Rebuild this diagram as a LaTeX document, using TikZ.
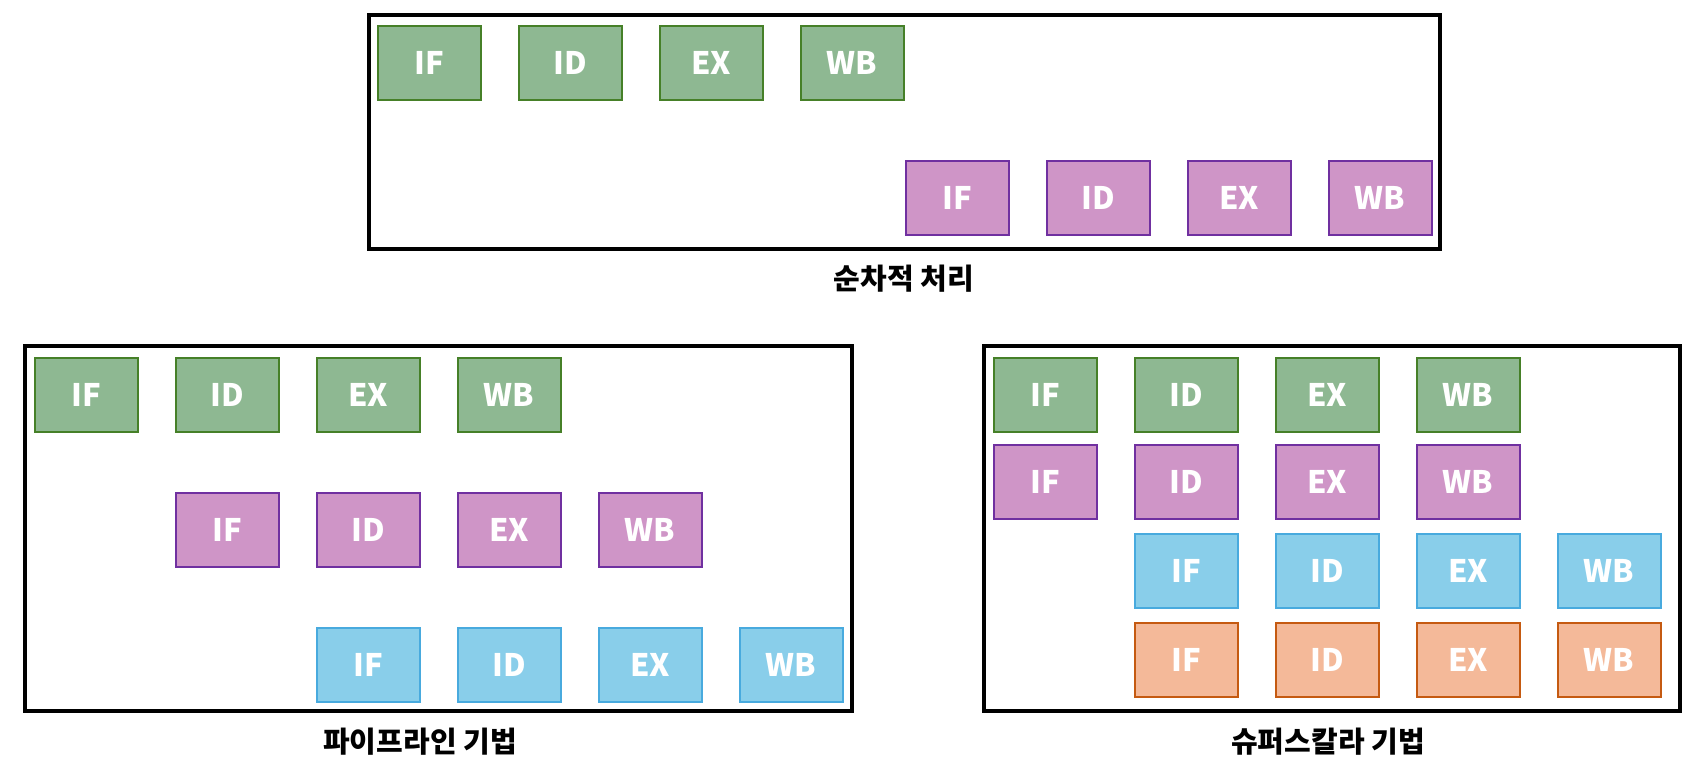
\documentclass[tikz,border=0pt]{standalone}
\usepackage{fontspec}
\setmainfont{Noto Sans CJK KR}
\definecolor{stgreen}{RGB}{142,184,146}
\definecolor{stgreenline}{RGB}{70,128,40}
\definecolor{stpurple}{RGB}{207,149,199}
\definecolor{stpurpleline}{RGB}{112,48,160}
\definecolor{stblue}{RGB}{137,206,234}
\definecolor{stblueline}{RGB}{72,170,222}
\definecolor{storange}{RGB}{244,185,153}
\definecolor{storangeline}{RGB}{197,90,17}
\usetikzlibrary{positioning}

\begin{document}
\begin{tikzpicture}[x=1pt,y=-1pt,
  stage/.style={draw,line width=2pt,minimum width=103pt,minimum height=74pt,inner sep=0pt,text=white,font=\fontsize{31}{36}\selectfont\bfseries},
  instA/.style={stage,fill=stgreen,draw=stgreenline},
  instB/.style={stage,fill=stpurple,draw=stpurpleline},
  instC/.style={stage,fill=stblue,draw=stblueline},
  instD/.style={stage,fill=storange,draw=storangeline},
  frame/.style={draw,line width=3.6pt},
  caption/.style={font=\fontsize{29}{34}\selectfont\bfseries}]
  \useasboundingbox (0,0) rectangle (1698,778);
  % Sequential
  \draw[frame] (369,15) rectangle (1440,249);
  \node[instA] (seqIF1) at (429,63) {IF};
  \node[instA] (seqID1) at (570,63) {ID};
  \node[instA] (seqEX1) at (711,63) {EX};
  \node[instA] (seqWB1) at (852,63) {WB};
  \node[instB] (seqIF2) at (957,198) {IF};
  \node[instB] (seqID2) at (1098,198) {ID};
  \node[instB] (seqEX2) at (1239,198) {EX};
  \node[instB] (seqWB2) at (1380,198) {WB};
  \node[caption] (seqcap) at (904,279) {순차적 처리};
  % Pipeline
  \draw[frame] (25,346) rectangle (852,711);
  \node[instA] (pipIF1) at (86,395) {IF};
  \node[instA] (pipID1) at (227,395) {ID};
  \node[instA] (pipEX1) at (368,395) {EX};
  \node[instA] (pipWB1) at (509,395) {WB};
  \node[instB] (pipIF2) at (227,530) {IF};
  \node[instB] (pipID2) at (368,530) {ID};
  \node[instB] (pipEX2) at (509,530) {EX};
  \node[instB] (pipWB2) at (650,530) {WB};
  \node[instC] (pipIF3) at (368,665) {IF};
  \node[instC] (pipID3) at (509,665) {ID};
  \node[instC] (pipEX3) at (650,665) {EX};
  \node[instC] (pipWB3) at (791,665) {WB};
  \node[caption] (pipcap) at (420,742) {파이프라인 기법};
  % Superscalar
  \draw[frame] (984,346) rectangle (1680,711);
  \node[instA] (supIF1) at (1045,395) {IF};
  \node[instA] (supID1) at (1186,395) {ID};
  \node[instA] (supEX1) at (1327,395) {EX};
  \node[instA] (supWB1) at (1468,395) {WB};
  \node[instB] (supIF2) at (1045,482) {IF};
  \node[instB] (supID2) at (1186,482) {ID};
  \node[instB] (supEX2) at (1327,482) {EX};
  \node[instB] (supWB2) at (1468,482) {WB};
  \node[instC] (supIF3) at (1186,571) {IF};
  \node[instC] (supID3) at (1327,571) {ID};
  \node[instC] (supEX3) at (1468,571) {EX};
  \node[instC] (supWB3) at (1609,571) {WB};
  \node[instD] (supIF4) at (1186,660) {IF};
  \node[instD] (supID4) at (1327,660) {ID};
  \node[instD] (supEX4) at (1468,660) {EX};
  \node[instD] (supWB4) at (1609,660) {WB};
  \node[caption] (supcap) at (1328,742) {슈퍼스칼라 기법};
\end{tikzpicture}
\end{document}
